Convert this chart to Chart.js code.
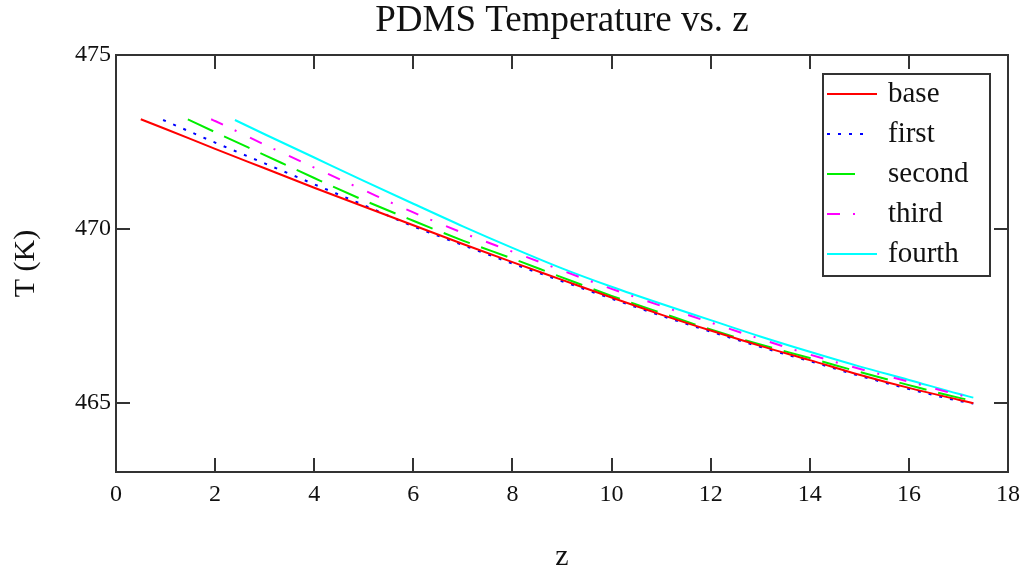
<!DOCTYPE html>
<html>
<head>
<meta charset="utf-8">
<title>PDMS Temperature vs. z</title>
<script src="https://cdn.jsdelivr.net/npm/chart.js@4.4.1/dist/chart.umd.min.js"></script>
<style>
    html, body { margin: 0; padding: 0; background: #fff; }
    #wrap { width: 1023px; height: 575px; }
</style>
</head>
<body>
<div id="wrap"><canvas id="tempChart" width="1023" height="575"></canvas></div>
<script>
// values (z in m, T in K)
const zBase   = [0.5, 1, 2, 3, 4, 5, 6, 7, 8, 9, 10, 11, 12, 13, 14, 15, 16, 17, 17.3];
const tBase   = [473.15, 472.87, 472.30, 471.74, 471.18, 470.64, 470.10, 469.56, 469.04, 468.53, 468.02, 467.53, 467.07, 466.63, 466.22, 465.80, 465.42, 465.08, 464.98];

const zFirst  = [0.95, 2, 3, 4, 5, 6, 7, 8, 9, 10, 11, 12, 13, 14, 15, 16, 17, 17.3];
const tFirst  = [473.13, 472.48, 471.88, 471.28, 470.68, 470.07, 469.53, 469.00, 468.49, 467.99, 467.50, 467.04, 466.60, 466.19, 465.77, 465.39, 465.05, 464.97];

const zSecond = [1.45, 2, 3, 4, 5, 6, 7, 8, 9, 10, 11, 12, 13, 14, 15, 16, 17, 17.3];
const tSecond = [473.15, 472.78, 472.12, 471.46, 470.82, 470.23, 469.66, 469.14, 468.60, 468.07, 467.58, 467.10, 466.67, 466.28, 465.88, 465.50, 465.14, 465.05];

const zThird  = [1.92, 2, 3, 4, 5, 6, 7, 8, 9, 10, 11, 12, 13, 14, 15, 16, 17, 17.3];
const tThird  = [473.15, 473.10, 472.42, 471.76, 471.11, 470.47, 469.88, 469.34, 468.80, 468.27, 467.78, 467.30, 466.83, 466.38, 465.97, 465.60, 465.22, 465.12];

const zFourth = [2.4, 3, 4, 5, 6, 7, 8, 9, 10, 11, 12, 13, 14, 15, 16, 17, 17.3];
const tFourth = [473.13, 472.72, 472.05, 471.38, 470.72, 470.07, 469.45, 468.86, 468.33, 467.84, 467.37, 466.90, 466.46, 466.04, 465.65, 465.25, 465.14];

const seriesNames = ['base', 'first', 'second', 'third', 'fourth'];
const xTicks = [0, 2, 4, 6, 8, 10, 12, 14, 16, 18];
const yTicks = [465, 470, 475];

const serif = "'Liberation Serif', 'DejaVu Serif', serif";
const frameColor = '#333333';

function toPoints(zs, ts) {
    return zs.map((z, i) => ({ x: z, y: ts[i] }));
}

function makeSet(label, zs, ts, color, dash) {
    return {
        label: label,
        data: toPoints(zs, ts),
        borderColor: color,
        backgroundColor: color,
        borderWidth: 2,
        borderDash: dash,
        pointRadius: 0,
        cubicInterpolationMode: 'monotone',
        fill: false
    };
}

// box around the plot with inward tick marks on all four sides
const framePlugin = {
    id: 'frame',
    afterDatasetsDraw(chart) {
        const { ctx, chartArea: a, scales } = chart;
        const tick = 14;
        ctx.save();
        ctx.strokeStyle = frameColor;
        ctx.lineWidth = 2;
        ctx.strokeRect(a.left, a.top, a.right - a.left, a.bottom - a.top);
        ctx.beginPath();
        xTicks.forEach(v => {
            const px = Math.round(scales.x.getPixelForValue(v));
            if (px <= a.left + 1 || px >= a.right - 1) return;
            ctx.moveTo(px, a.bottom); ctx.lineTo(px, a.bottom - tick);
            ctx.moveTo(px, a.top); ctx.lineTo(px, a.top + tick);
        });
        yTicks.forEach(v => {
            const py = Math.round(scales.y.getPixelForValue(v));
            if (py <= a.top + 1 || py >= a.bottom - 1) return;
            ctx.moveTo(a.left, py); ctx.lineTo(a.left + tick, py);
            ctx.moveTo(a.right, py); ctx.lineTo(a.right - tick, py);
        });
        ctx.stroke();
        ctx.restore();
    }
};

// legend box drawn inside the plot, top right
const boxLegendPlugin = {
    id: 'boxLegend',
    afterDraw(chart) {
        const { ctx } = chart;
        const left = 823, top = 74, right = 990, bottom = 276;
        const sampleLen = [50, 40, 33, 33, 50];
        ctx.save();
        ctx.fillStyle = '#ffffff';
        ctx.fillRect(left, top, right - left, bottom - top);
        ctx.strokeStyle = frameColor;
        ctx.lineWidth = 2;
        ctx.strokeRect(left, top, right - left, bottom - top);
        chart.data.datasets.forEach((ds, i) => {
            const y = 94 + i * 40;
            ctx.beginPath();
            ctx.strokeStyle = ds.borderColor;
            ctx.lineWidth = 2;
            ctx.setLineDash(ds.borderDash || []);
            ctx.moveTo(827, y);
            ctx.lineTo(827 + sampleLen[i], y);
            ctx.stroke();
            ctx.setLineDash([]);
            ctx.fillStyle = '#111111';
            ctx.font = '29px ' + serif;
            ctx.textAlign = 'left';
            ctx.textBaseline = 'middle';
            ctx.fillText(ds.label, 888, y);
        });
        ctx.restore();
    }
};

const ctx = document.getElementById('tempChart').getContext('2d');
const tempChart = new Chart(ctx, {
    type: 'line',
    data: {
        datasets: [
            makeSet(seriesNames[0], zBase, tBase, '#ff0000', []),
            makeSet(seriesNames[1], zFirst, tFirst, '#0000ff', [3, 8]),
            makeSet(seriesNames[2], zSecond, tSecond, '#00ee00', [28, 12]),
            makeSet(seriesNames[3], zThird, tThird, '#ff00ff', [13, 13, 2, 15]),
            makeSet(seriesNames[4], zFourth, tFourth, '#00ffff', [])
        ]
    },
    options: {
        responsive: false,
        animation: false,
        layout: { padding: { top: 0, right: 15, bottom: 0, left: 0 } },
        plugins: {
            legend: { display: false },
            tooltip: { enabled: false },
            title: {
                display: true,
                text: 'PDMS Temperature vs. z',
                fullSize: false,
                color: '#111111',
                font: { family: serif, size: 37, weight: 'normal', lineHeight: 1.0 },
                padding: { top: 3, bottom: 15 }
            }
        },
        scales: {
            x: {
                type: 'linear',
                min: 0,
                max: 18,
                afterBuildTicks: scale => { scale.ticks = xTicks.map(v => ({ value: v })); },
                afterFit: scale => {
                    scale.height = 103;
                    scale.paddingLeft = 0;
                    scale.paddingRight = 0;
                },
                grid: { display: false, drawTicks: false, tickLength: 0 },
                border: { display: false },
                ticks: {
                    color: '#111111',
                    padding: 8,
                    maxRotation: 0,
                    font: { family: serif, size: 24 }
                },
                title: {
                    display: true,
                    text: 'z',
                    color: '#111111',
                    font: { family: serif, size: 30 },
                    padding: { top: 0, bottom: 0 }
                }
            },
            y: {
                type: 'linear',
                min: 463,
                max: 475,
                afterBuildTicks: scale => { scale.ticks = yTicks.map(v => ({ value: v })); },
                afterFit: scale => { scale.width = 116; },
                grid: { display: false, drawTicks: false, tickLength: 0 },
                border: { display: false },
                ticks: {
                    color: '#111111',
                    padding: 5,
                    font: { family: serif, size: 24 }
                },
                title: {
                    display: true,
                    text: 'T (K)',
                    color: '#111111',
                    font: { family: serif, size: 30 },
                    padding: { top: 8, bottom: 0 }
                }
            }
        }
    },
    plugins: [framePlugin, boxLegendPlugin]
});
</script>
</body>
</html>
